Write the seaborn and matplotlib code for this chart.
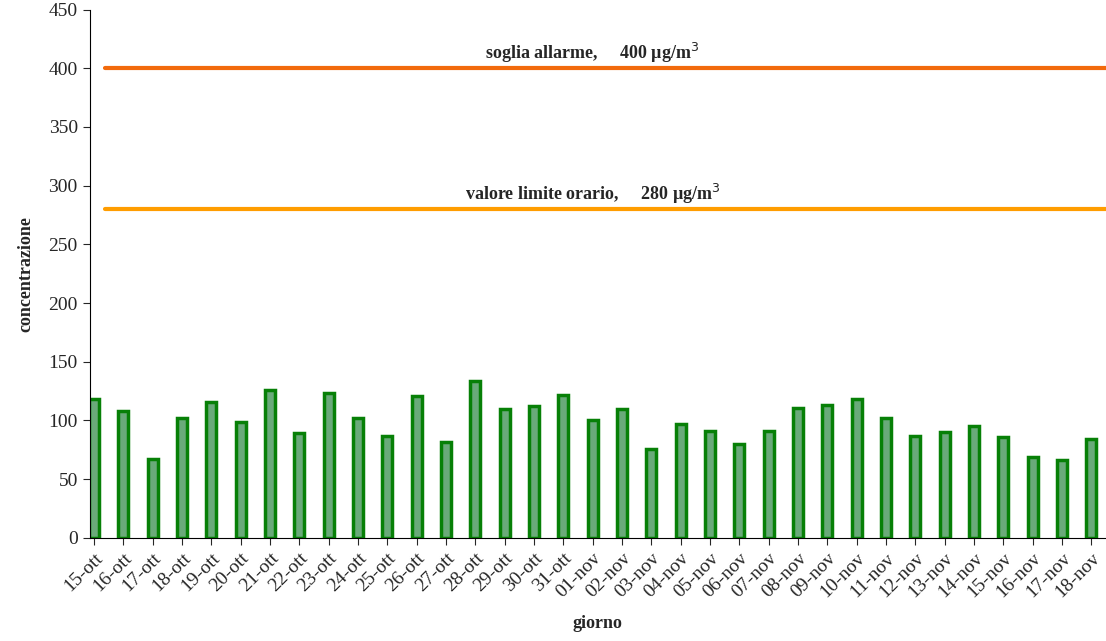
import matplotlib
matplotlib.use("Agg")
import matplotlib.pyplot as plt
import seaborn as sns
import pandas as pd

giorni = ["15-ott", "16-ott", "17-ott", "18-ott", "19-ott", "20-ott", "21-ott", "22-ott",
          "23-ott", "24-ott", "25-ott", "26-ott", "27-ott", "28-ott", "29-ott", "30-ott",
          "31-ott", "01-nov", "02-nov", "03-nov", "04-nov", "05-nov", "06-nov", "07-nov",
          "08-nov", "09-nov", "10-nov", "11-nov", "12-nov", "13-nov", "14-nov", "15-nov",
          "16-nov", "17-nov", "18-nov"]
valori = [118, 108, 67, 102, 116, 99, 126, 89, 123, 102, 87, 121, 82, 134, 110, 112,
          122, 100, 110, 76, 97, 91, 80, 91, 111, 113, 118, 102, 87, 90, 95, 86, 69, 66, 84]
soglia_allarme = 400
valore_limite = 280

df = pd.DataFrame({"giorno": giorni, "concentrazione": valori})

sns.set_style("white")
plt.rcParams["font.family"] = ["Liberation Serif", "DejaVu Serif"]

fig = plt.figure(figsize=(11.06, 6.41), dpi=100)
ax = fig.add_axes([0.081, 0.161, 0.919, 0.824])
sns.barplot(data=df, x="giorno", y="concentrazione", color="#6aaa7a", width=0.34,
            edgecolor="#078007", linewidth=2.5, saturation=1, ax=ax)

ax.axhline(soglia_allarme, color="#f26a0c", lw=3, xmin=0.015)
ax.axhline(valore_limite, color="#ff9d00", lw=3, xmin=0.015)
ax.text(17, soglia_allarme + 8, "soglia allarme,     400 µg/m$^3$", ha="center",
        fontsize=13, fontweight="bold")
ax.text(17, valore_limite + 8, "valore limite orario,     280 µg/m$^3$", ha="center",
        fontsize=13, fontweight="bold")

ax.set_xlim(-0.15, len(giorni) - 0.5)
ax.set_ylim(0, 450)
ax.set_yticks(range(0, 451, 50))
ax.tick_params(axis="y", labelsize=14, left=True, length=5)
ax.tick_params(axis="x", labelsize=14, bottom=True, length=5)
plt.setp(ax.get_xticklabels(), rotation=45, ha="right", rotation_mode="anchor")
ax.set_xlabel("giorno", fontsize=13, fontweight="bold", labelpad=10)
ax.set_ylabel("concentrazione", fontsize=13, fontweight="bold", labelpad=10)
for s in ["top", "right"]:
    ax.spines[s].set_visible(False)
for s in ["left", "bottom"]:
    ax.spines[s].set_color("black")

fig.savefig("out.png", dpi=100)
